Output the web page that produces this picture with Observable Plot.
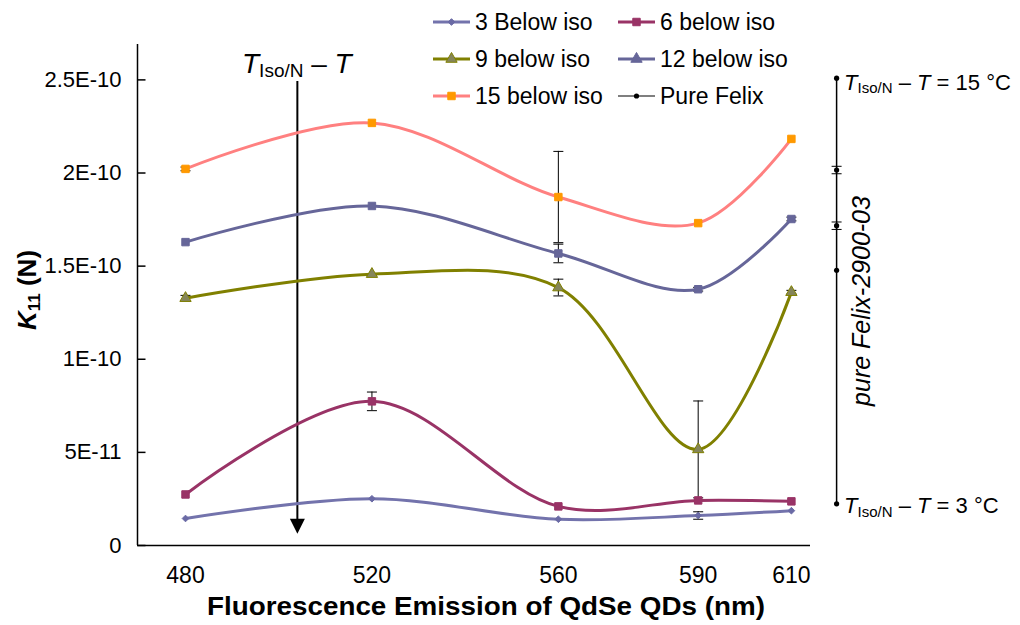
<!DOCTYPE html>
<html>
<head>
<meta charset="utf-8">
<script src="https://cdn.jsdelivr.net/npm/d3@7"></script>
<script src="https://cdn.jsdelivr.net/npm/@observablehq/plot@0.6"></script>
<style>
  html, body { margin: 0; padding: 0; background: #fff; }
  #chart { width: 1020px; height: 625px; }
</style>
</head>
<body>
<div id="chart"></div>
<script>
// ---------- data ----------
const wavelengths = [480, 520, 560, 590, 610];
const seriesNames = ["3 Below iso", "6 below iso", "9 below iso", "12 below iso", "15 below iso"];
const below3  = [1.45e-11, 2.51e-11, 1.41e-11, 1.61e-11, 1.87e-11];
const below6  = [2.74e-11, 7.74e-11, 2.10e-11, 2.42e-11, 2.37e-11];
const below9  = [1.328e-10, 1.457e-10, 1.385e-10, 5.16e-11, 1.36e-10];
const below12 = [1.629e-10, 1.823e-10, 1.568e-10, 1.376e-10, 1.753e-10];
const below15 = [2.022e-10, 2.269e-10, 1.871e-10, 1.731e-10, 2.183e-10];
const err3  = [0, 0, 0, 2e-12, 0];
const err6  = [0, 5e-12, 0, 0, 0];
const err9  = [1.5e-12, 0, 4.5e-12, 2.6e-11, 1e-12];
const err12 = [0, 0, 5e-12, 1e-12, 1e-12];
const err15 = [1e-12, 0, 2.45e-11, 0, 0];
const pureFelixName = "Pure Felix";
const pureFelixX = 619.7;
const pureFelixValues = [2.509e-10, 2.016e-10, 1.717e-10, 1.478e-10, 2.24e-11];
const pureFelixErr = [0, 2e-12, 2e-12, 0, 0];
const xTicks = [480, 520, 560, 590, 610];
const yTicks = [0, 5e-11, 1e-10, 1.5e-10, 2e-10, 2.5e-10];
const yTickLabels = ["0", "5E-11", "1E-10", "1.5E-10", "2E-10", "2.5E-10"];
const xDomain = [469.7, 614.1];
const yDomain = [0, 2.69e-10];
const xTitle = "Fluorescence Emission of QdSe QDs (nm)";
const arrowX = 504;
const arrowTop = 2.491e-10;
const arrowTip = 6.3e-12;

// ---------- styles ----------
const valuesList = [below3, below6, below9, below12, below15];
const errList = [err3, err6, err9, err12, err15];
const styles = [
  {line: "#7373ac", fill: "#6a6aa5", stroke: "#6a6aa5", symbol: "diamond2", r: 3.0, legendSymbol: "diamond2"},
  {line: "#993366", fill: "#993366", stroke: "#993366", symbol: "square", r: 4.2, legendSymbol: "square"},
  {line: "#808000", fill: "#85855a", stroke: "#808000", symbol: "triangle", r: 4.2, legendSymbol: "triangle"},
  {line: "#666699", fill: "#666699", stroke: "#666699", symbol: "square", r: 4.2, legendSymbol: "triangle"},
  {line: "#ff8080", fill: "#ff9900", stroke: "#ff9900", symbol: "square", r: 4.2, legendSymbol: "square"}
];

const rows = [];
seriesNames.forEach((name, si) => {
  wavelengths.forEach((w, i) => rows.push({series: name, si, x: w, y: valuesList[si][i], err: errList[si][i]}));
});
const errRows = rows.filter(d => d.err > 0);
const felixRows = pureFelixValues.map((v, i) => ({x: pureFelixX, y: v, err: pureFelixErr[i]}));
const felixErrRows = felixRows.filter(d => d.err > 0);

// custom symbols
const capSym = {draw(ctx, size) { const w = Math.sqrt(size) / 2; ctx.moveTo(-w, 0); ctx.lineTo(w, 0); }};
const tickSym = {draw(ctx, size) { const w = Math.sqrt(size); ctx.moveTo(0, 0); ctx.lineTo(w, 0); }};
const headSym = {draw(ctx, size) { const h = Math.sqrt(size); ctx.moveTo(0, 0); ctx.lineTo(-h * 0.5, -h); ctx.lineTo(h * 0.5, -h); ctx.closePath(); }};
const rFor = px => Math.sqrt(px * px / Math.PI);

const marks = [];
// axes lines
marks.push(Plot.ruleX([xDomain[0]], {stroke: "black", strokeWidth: 1.5}));
marks.push(Plot.ruleY([0], {stroke: "black", strokeWidth: 1.5}));
marks.push(Plot.dot(yTicks, {x: xDomain[0], y: d => d, symbol: tickSym, r: rFor(8), stroke: "black", strokeWidth: 1.5, fill: "none"}));
marks.push(Plot.axisY({ticks: yTicks, tickFormat: d => yTickLabels[yTicks.indexOf(d)], tickSize: 0, tickPadding: 16, fontSize: 22, label: null}));
marks.push(Plot.axisX({ticks: xTicks, tickFormat: d => String(d), tickSize: 0, tickPadding: 21, fontSize: 23, label: null}));

// arrow
marks.push(Plot.ruleX([arrowX], {y1: arrowTop, y2: arrowTip + 5e-12, stroke: "black", strokeWidth: 2}));
marks.push(Plot.dot([arrowX], {x: d => d, y: arrowTip, symbol: headSym, r: rFor(15), fill: "black", stroke: "none"}));

// error bars
const allErr = [...errRows, ...felixErrRows];
marks.push(Plot.ruleX(allErr, {x: "x", y1: d => d.y - d.err, y2: d => d.y + d.err, stroke: "black", strokeWidth: 1}));
marks.push(Plot.dot(allErr, {x: "x", y: d => d.y - d.err, symbol: capSym, r: rFor(10), stroke: "black", strokeWidth: 1, fill: "none"}));
marks.push(Plot.dot(allErr, {x: "x", y: d => d.y + d.err, symbol: capSym, r: rFor(10), stroke: "black", strokeWidth: 1, fill: "none"}));

// series lines
seriesNames.forEach((name, si) => {
  const data = rows.filter(d => d.si === si);
  marks.push(Plot.line(data, {x: "x", y: "y", curve: "catmull-rom", stroke: styles[si].line, strokeWidth: 3}));
});
// pure felix
marks.push(Plot.line(felixRows, {x: "x", y: "y", stroke: "black", strokeWidth: 1.5}));
marks.push(Plot.dot(felixRows, {x: "x", y: "y", r: 2.6, fill: "black", stroke: "none"}));
// markers
seriesNames.forEach((name, si) => {
  const data = rows.filter(d => d.si === si);
  marks.push(Plot.dot(data, {x: "x", y: "y", symbol: styles[si].symbol, r: styles[si].r, fill: styles[si].fill, stroke: styles[si].stroke, strokeWidth: 1}));
});

const chart = Plot.plot({
  width: 1020, height: 625,
  marginLeft: 137, marginRight: 210, marginTop: 44, marginBottom: 80,
  x: {domain: xDomain},
  y: {domain: yDomain},
  style: {fontFamily: "'Liberation Sans', Arial, sans-serif", fontSize: "22px", color: "black", background: "white", overflow: "visible"},
  marks
});
document.getElementById("chart").appendChild(chart);

// ---------- annotations using the plot's scales ----------
const sx = chart.scale("x"), sy = chart.scale("y");
const svg = d3.select(chart);
const FONT = "'Liberation Sans', Arial, sans-serif";

function richText(x, y, segs, o) {
  const t = svg.append("text").attr("x", x).attr("y", y)
    .attr("font-family", FONT).attr("font-size", o.size).attr("fill", "black")
    .attr("text-anchor", o.anchor || "start");
  if (o.weight) t.attr("font-weight", o.weight);
  if (o.rotate) t.attr("transform", `rotate(${o.rotate},${x},${y})`);
  if (o.italic) t.attr("font-style", "italic");
  if (o.length) t.attr("textLength", o.length).attr("lengthAdjust", "spacingAndGlyphs");
  let shifted = 0;
  segs.forEach(s => {
    const ts = t.append("tspan").text(s.t);
    if (s.i) ts.attr("font-style", "italic");
    else if (!o.italic) ts.attr("font-style", "normal");
    if (s.sub) {
      const sh = o.size * 0.16;
      ts.attr("font-size", o.sub).attr("dy", sh - shifted);
      shifted = sh;
    } else if (shifted) {
      ts.attr("dy", -shifted);
      shifted = 0;
    }
  });
  return t;
}

// x axis title
richText(486, 615, [{t: xTitle}], {size: 25, anchor: "middle", weight: "bold", length: 558});

// arrow label
richText(sx.apply(arrowX), 73, [{t: "T", i: true}, {t: "Iso/N", sub: true}, {t: " \u2013 "}, {t: "T", i: true}], {size: 28, sub: 19, anchor: "middle"});

// pure felix labels
const fx = sx.apply(pureFelixX) + 8;
richText(fx, sy.apply(pureFelixValues[0]) + 12, [{t: "T", i: true}, {t: "Iso/N", sub: true}, {t: " \u2013 "}, {t: "T", i: true}, {t: " = 15 \u00B0C"}], {size: 22, sub: 15});
richText(fx, sy.apply(pureFelixValues[4]) + 10, [{t: "T", i: true}, {t: "Iso/N", sub: true}, {t: " \u2013 "}, {t: "T", i: true}, {t: " = 3 \u00B0C"}], {size: 22, sub: 15});
richText(870, 301, [{t: "pure Felix-2900-03"}], {size: 25, anchor: "middle", rotate: -90, italic: true});

// y title
richText(36, 290, [{t: "K", i: true}, {t: "11", sub: true}, {t: " (N)"}], {size: 26, sub: 17, anchor: "middle", rotate: -90, weight: "bold"});

// ---------- legend ----------
const legendItems = [
  ...seriesNames.map((n, si) => ({name: n, line: styles[si].line, sw: 3, symbol: styles[si].legendSymbol, fill: styles[si].fill, stroke: styles[si].stroke, r: styles[si].r})),
  {name: pureFelixName, line: "#555", sw: 1.5, symbol: "circle", fill: "black", stroke: "none", r: 2.6}
];
const symMap = {diamond2: d3.symbolDiamond2, square: d3.symbolSquare, triangle: d3.symbolTriangle, circle: d3.symbolCircle};
const colX = [433, 618];
const rowY = [22, 59, 96];
const lg = svg.append("g");
legendItems.forEach((it, i) => {
  const cx = colX[i % 2], cy = rowY[Math.floor(i / 2)];
  lg.append("line").attr("x1", cx).attr("x2", cx + 37).attr("y1", cy).attr("y2", cy)
    .attr("stroke", it.line).attr("stroke-width", it.sw);
  lg.append("path").attr("d", d3.symbol(symMap[it.symbol], Math.PI * it.r * it.r)())
    .attr("transform", `translate(${cx + 18.5},${cy})`)
    .attr("fill", it.fill).attr("stroke", it.stroke).attr("stroke-width", 1);
  lg.append("text").attr("x", cx + 42).attr("y", cy).attr("dy", "0.35em")
    .attr("text-anchor", "start")
    .attr("font-family", FONT).attr("font-size", 23).attr("fill", "black").text(it.name);
});
</script>
</body>
</html>
